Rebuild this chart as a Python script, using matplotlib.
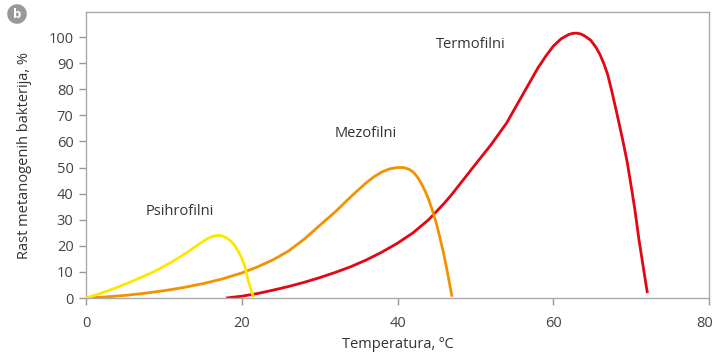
import matplotlib.pyplot as plt
from matplotlib.transforms import ScaledTranslation

plt.rcParams['font.family'] = ['Open Sans', 'DejaVu Sans']

# ------------------------------------ Data ------------------------------------ #
psychro_t = [0, 1, 2, 3, 4, 5, 6, 7, 8, 9, 10, 11, 12, 13, 14, 15, 15.5, 16, 16.5, 17,
             17.5, 18, 18.5, 19, 19.5, 20, 20.4, 20.8, 21.2, 21.5]
psychro_g = [0, 0.9, 1.9, 3, 4.1, 5.3, 6.5, 7.8, 9.1, 10.5, 12.1, 13.8, 15.6, 17.5, 19.6, 21.6,
             22.6, 23.3, 23.8, 24, 23.8, 23.1, 22.1, 20.5, 18.2, 15.3, 12, 7, 3, 0.3]

meso_t = [0, 2.5, 5, 7.5, 10, 12.5, 15, 17.5, 20, 22, 24, 26, 28, 30, 32, 34, 35, 36, 37, 38,
          39, 40, 40.8, 41.5, 42, 42.5, 43, 43.5, 44, 44.5, 45, 45.5, 46, 46.5, 47]
meso_g = [0, 0.4, 1, 1.8, 2.8, 4, 5.5, 7.3, 9.6, 11.9, 14.6, 18, 22.5, 27.8, 33, 38.8, 41.5,
          44.2, 46.5, 48.3, 49.5, 50, 50, 49.3, 48.3, 46.6, 44.2, 41.3, 37.8, 33.4, 28.5, 22.5,
          16, 8.5, 0.5]

thermo_t = [18, 20, 22, 24, 26, 28, 30, 32, 34, 36, 38, 40, 42, 44, 46, 47, 48, 50, 52, 54,
            56, 58, 59, 60, 61, 62, 62.5, 63, 63.5, 64, 64.8, 65.5, 66, 66.5, 67, 67.5, 68,
            68.5, 69, 69.5, 70, 70.5, 71, 71.5, 72, 72.1]
thermo_g = [0, 0.7, 1.7, 3, 4.4, 6, 7.8, 9.8, 12, 14.6, 17.6, 21, 25, 30, 36.3, 39.8, 43.6, 51.2,
            58.7, 67, 77.5, 88, 92.5, 96.5, 99.3, 101, 101.4, 101.5, 101.2, 100.5, 98.8, 96,
            93.3, 89.8, 85.5, 79.5, 73, 66.3, 59.4, 52, 43, 33.5, 22.5, 13, 3.5, 1.9]

labels = ['Psihrofilni', 'Mezofilni', 'Termofilni']
label_pos = [(12.1, 33), (35.9, 63), (49.4, 97)]

x_ticks = [0, 20, 40, 60, 80]
y_ticks = list(range(0, 101, 10))

# ---------------------------------- Plotting ---------------------------------- #
fig = plt.figure(figsize=(7.15, 3.56), dpi=100)
ax = fig.add_axes([0.1203, 0.1629, 0.8713, 0.8034])

kw = dict(lw=2.0, solid_joinstyle='round', solid_capstyle='butt')
ax.plot(psychro_t, psychro_g, color='#FFE600', zorder=3, **kw)
ax.plot(meso_t, meso_g, color='#F39200', zorder=2, **kw)
ax.plot(thermo_t, thermo_g, color='#E30613', zorder=1, **kw)

for txt, (tx, ty) in zip(labels, label_pos):
    ax.text(tx, ty, txt, ha='center', va='center', fontsize=10.5, color='#333333')

ax.set_xlim(0, 80)
ax.set_ylim(0, 109.6)
ax.set_xticks(x_ticks)
ax.set_yticks(y_ticks)
ax.tick_params(direction='out', length=5, width=1, color='#999999', labelcolor='#444444',
               labelsize=10.5)
ax.tick_params(axis='x', pad=8)
ax.tick_params(axis='y', pad=4)
for s in ax.spines.values():
    s.set_color('#aaaaaa')
    s.set_linewidth(1)

# nudge last x label so it stays inside the figure
last = ax.get_xticklabels()[-1]
last.set_transform(last.get_transform() + ScaledTranslation(-4 / 100, 0, fig.dpi_scale_trans))

ax.set_xlabel('Temperatura, \u00baC', fontsize=10.5, color='#333333', labelpad=4)
ax.set_ylabel('Rast metanogenih bakterija, %', fontsize=10.5, color='#333333', labelpad=12)

# badge "b"
fig.text(17 / 715, 1 - 14 / 356, 'b', ha='center', va='center', color='white',
         fontsize=9.5, fontweight='bold',
         bbox=dict(boxstyle='circle,pad=0.25', facecolor='#999999', edgecolor='none'))

fig.savefig('out.png', dpi=100)
